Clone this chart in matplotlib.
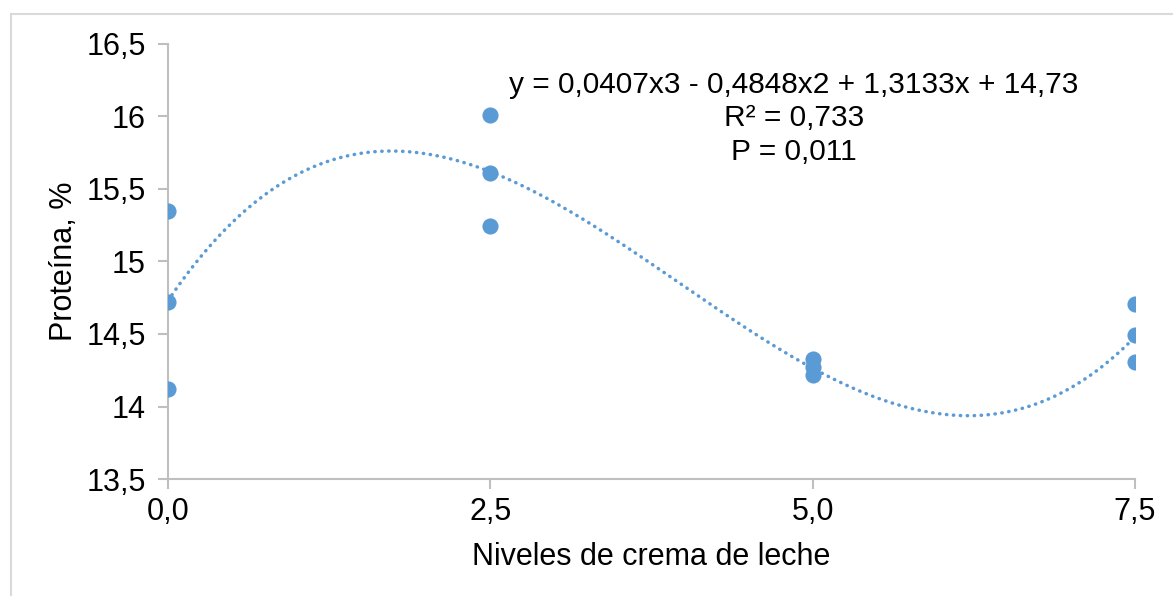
import numpy as np
import matplotlib.pyplot as plt
from matplotlib.lines import Line2D

plt.rcParams['font.family'] = ['Liberation Sans', 'DejaVu Sans']

# Protein content per cream level (three replicates each)
niveles = [0.0, 0.0, 0.0, 2.5, 2.5, 2.5, 5.0, 5.0, 5.0, 7.5, 7.5, 7.5]
proteina = [15.35, 14.72, 14.12, 16.01, 15.61, 15.245, 14.33, 14.27, 14.22, 14.71, 14.49, 14.31]

# Cubic trend coefficients (x3, x2, x, const)
coef = [0.0407, -0.4848, 1.3133, 14.73]

xticks = [0.0, 2.5, 5.0, 7.5]
yticks = [13.5, 14, 14.5, 15, 15.5, 16, 16.5]

azul = '#5B9BD5'
gris = '#BFBFBF'
fs = 22

fig = plt.figure(figsize=(11.73, 5.96), dpi=100)
ax = fig.add_axes([0.1432, 0.1963, 0.8244, 0.7299])

xs = np.linspace(0, 7.5, 300)
ax.plot(xs, np.polyval(coef, xs), color=azul, lw=2.5,
        linestyle=(0, (0.1, 1.9)), dash_capstyle='round', zorder=2)
ax.scatter(niveles, proteina, s=135, color=azul, zorder=3, linewidths=0)

ax.set_xlim(0, 7.5)
ax.set_ylim(13.5, 16.5)
ax.set_xticks(xticks)
ax.set_xticklabels([f'{v:.1f}'.replace('.', ',') for v in xticks])
ax.set_yticks(yticks)
ax.set_yticklabels([f'{v:g}'.replace('.', ',') for v in yticks])

for s in ['top', 'right']:
    ax.spines[s].set_visible(False)
for s in ['left', 'bottom']:
    ax.spines[s].set_color(gris)
    ax.spines[s].set_linewidth(1.5)
    ax.spines[s].set_clip_on(False)
ax.tick_params(direction='out', length=7, width=1.5, color=gris,
               labelsize=fs, labelcolor='black')
ax.tick_params(axis='y', pad=9)
ax.tick_params(axis='x', pad=6)

ax.set_xlabel('Niveles de crema de leche', fontsize=fs, labelpad=11)
ax.set_ylabel('Proteína, %', fontsize=fs, labelpad=5)

ax.text(0.647, 0.829, 'y = 0,0407x3 - 0,4848x2 + 1,3133x + 14,73\nR² = 0,733\nP = 0,011',
        transform=ax.transAxes, ha='center', va='center', fontsize=21.5,
        linespacing=1.25)

# Outer chart frame (top and left edges)
fig.add_artist(Line2D([11 / 1173, 1], [1 - 14 / 596, 1 - 14 / 596],
                      color='#D9D9D9', lw=1.5, transform=fig.transFigure))
fig.add_artist(Line2D([11 / 1173, 11 / 1173], [0, 1 - 14 / 596],
                      color='#D9D9D9', lw=1.5, transform=fig.transFigure))

fig.savefig('out.png', dpi=100)
